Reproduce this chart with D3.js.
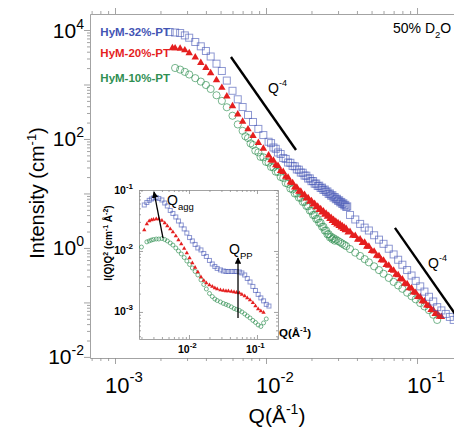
<!DOCTYPE html>
<html>
<head>
<meta charset="utf-8">
<title>SANS intensity</title>
<script src="https://d3js.org/d3.v7.min.js"></script>
<style>
  body { margin: 0; background: #fff; }
  text { font-family: "Liberation Sans", Arial, sans-serif; }
</style>
</head>
<body>
<script>
// ---- main plot data: Q (1/A) and intensity (1/cm) ----
var qBlue = [0.0023,0.0025,0.0027,0.0029,0.0031,0.0034,0.0037,0.004,0.0043,0.0047,0.0051,0.0055,0.006,0.0065,0.007,0.0076,0.0082,0.0089,0.0096,0.0104,0.0112,0.012,0.013,0.014,0.015,0.016,0.017,0.018,0.019,0.02,0.021,0.022,0.023,0.024,0.025,0.026,0.027,0.028,0.029,0.030,0.031,0.032,0.033,0.034,0.036,0.039,0.042,0.045,0.048,0.052,0.056,0.060,0.065,0.070,0.075,0.080,0.086,0.092,0.098,0.105,0.112,0.120,0.128,0.136,0.145,0.155,0.165,0.175];
var iBlue = [9190,8995,8810,7960,7220,6025,5020,4120,3265,2410,1770,1180,766,535,386,276,205,153,118,88.9,69.8,56.5,44.8,37.0,32.0,27.6,24.2,21.3,18.8,16.8,15.1,13.7,12.6,11.6,10.7,9.79,9.08,8.41,7.83,7.31,6.84,6.41,6.02,5.65,4.03,3.33,2.76,2.36,2.09,1.71,1.42,1.19,0.967,0.760,0.607,0.492,0.393,0.312,0.249,0.197,0.158,0.127,0.104,0.0820,0.0713,0.0615,0.0542,0.0477];
// second, denser detector setting (overlap band)
var qBlue2 = [0.0108,0.0116,0.0125,0.0135,0.0145,0.0155,0.0165,0.0175,0.0185,0.0195,0.0205,0.0215,0.0225,0.0235,0.0245,0.0255,0.0265,0.0275,0.0285,0.0295,0.0305,0.0315,0.0325,0.0335,0.0345];
var iBlue2 = [84,66,53,43,36.5,31.5,27.3,24.0,21.2,18.9,16.9,15.2,13.9,12.8,11.8,10.9,10.0,9.3,8.6,8.0,7.5,7.0,6.6,6.2,5.8];

var qRed = [0.0024,0.0025,0.0027,0.0029,0.0031,0.0034,0.0037,0.004,0.0043,0.0047,0.0051,0.0055,0.006,0.0065,0.007,0.0076,0.0082,0.0089,0.0096,0.0104,0.0112,0.012,0.013,0.014,0.015,0.016,0.017,0.018,0.019,0.02,0.021,0.022,0.023,0.024,0.025,0.026,0.027,0.028,0.029,0.030,0.031,0.032,0.033,0.034,0.036,0.039,0.042,0.045,0.048,0.052,0.056,0.060,0.065,0.070,0.075,0.080,0.086,0.092,0.098,0.105,0.112,0.120,0.128,0.136,0.145];
var iRed = [4677,4636,4560,4256,3767,3141,2500,2018,1626,1205,873,605,403,284,208,151,114,84.8,66.7,50.2,40.0,32.2,25.0,19.5,15.6,12.9,10.8,9.46,8.27,7.28,6.47,5.75,5.19,4.69,4.28,3.90,3.57,3.29,3.05,2.85,2.68,2.52,2.38,2.24,1.97,1.67,1.44,1.25,1.06,0.863,0.710,0.590,0.473,0.385,0.318,0.265,0.218,0.181,0.151,0.125,0.105,0.0863,0.0722,0.0626,0.0542];
var qRed2 = [0.0108,0.0116,0.0125,0.0135,0.0145,0.0155,0.0165,0.0175,0.0185,0.0195,0.0205,0.0215,0.0225,0.0235,0.0245,0.0255,0.0265,0.0275,0.0285,0.0295,0.0305,0.0315,0.0325,0.0335,0.035,0.0375,0.0405,0.0435,0.0465,0.050,0.054,0.058,0.0625,0.0675,0.0725,0.0775,0.083,0.089,0.095,0.1015,0.1085,0.116,0.124,0.132,0.1405];
var iRed2 = [41,33,26,20.3,16,13,10.8,9.2,8.1,7.1,6.3,5.6,5.0,4.5,4.1,3.75,3.42,3.15,2.9,2.7,2.55,2.4,2.25,2.12,1.93,1.68,1.43,1.24,1.06,0.88,0.72,0.60,0.49,0.395,0.325,0.27,0.222,0.184,0.153,0.127,0.106,0.088,0.073,0.062,0.055];

var qGreen = [0.0025,0.0027,0.0029,0.0031,0.0034,0.0037,0.004,0.0043,0.0047,0.0051,0.0055,0.006,0.0065,0.007,0.0076,0.0082,0.0089,0.0096,0.0104,0.0112,0.012,0.013,0.014,0.015,0.016,0.017,0.018,0.019,0.02,0.021,0.022,0.023,0.024,0.025,0.026,0.027,0.028,0.029,0.030,0.031,0.032,0.033,0.034,0.036,0.039,0.042,0.045,0.048,0.052,0.056,0.060,0.065,0.070,0.075,0.080,0.086,0.092,0.098,0.105,0.112,0.120,0.128,0.136];
var iGreen = [2009,1876,1703,1525,1306,1130,979,827,634,500,382,267,185,141,104,77.6,56.8,46.1,36.9,30.1,24.8,19.2,15.0,11.9,9.96,8.30,7.01,5.80,4.79,4.01,3.40,2.90,2.45,2.09,1.79,1.61,1.51,1.43,1.34,1.27,1.20,1.14,1.08,0.955,0.820,0.713,0.623,0.544,0.460,0.392,0.336,0.282,0.238,0.205,0.178,0.151,0.130,0.114,0.0975,0.0845,0.0722,0.0595,0.0477];
var qGreen2 = [0.0073,0.0079,0.0085,0.0092,0.01,0.0108,0.0116,0.0125,0.0135,0.0145,0.0155,0.0165,0.0175,0.0185,0.0195,0.0205,0.0215,0.0225,0.0235,0.0245,0.0255,0.0265,0.0275,0.0285];
var iGreen2 = [112,83,61,47,38,30.7,25.1,20.1,15.6,12.3,10.0,8.4,7.0,5.9,4.85,4.03,3.4,2.9,2.45,2.08,1.78,1.56,1.45,1.36];

// ---- inset data: I(Q)Q^2 ----
var qInBlue = [0.0022,0.0024,0.0026,0.0028,0.003,0.0033,0.0036,0.004,0.0044,0.0048,0.0053,0.0058,0.0064,0.007,0.0077,0.0085,0.0093,0.0102,0.0112,0.0123,0.0135,0.015,0.0165,0.018,0.02,0.022,0.024,0.026,0.029,0.032,0.035,0.038,0.042,0.046,0.05,0.055,0.06,0.066,0.072,0.079,0.087,0.095,0.104,0.114,0.125,0.137,0.15];
var vInBlue = [0.0568,0.0624,0.0676,0.0712,0.0739,0.0753,0.0726,0.0686,0.0612,0.0547,0.0462,0.0412,0.0361,0.0310,0.0267,0.0230,0.0197,0.0166,0.0146,0.0128,0.0112,0.0104,0.00910,0.00813,0.00699,0.00612,0.00557,0.00517,0.00489,0.00470,0.00461,0.00461,0.00461,0.00461,0.00461,0.00453,0.00436,0.00404,0.00354,0.00310,0.00262,0.00225,0.00194,0.00170,0.00152,0.00133,0.00125];

var qInRed = [0.0022,0.0024,0.0026,0.0028,0.003,0.0033,0.0036,0.004,0.0044,0.0048,0.0053,0.0058,0.0064,0.007,0.0077,0.0085,0.0093,0.0102,0.0112,0.0123,0.0135,0.015,0.0165,0.018,0.02,0.022,0.024,0.026,0.029,0.032,0.035,0.038,0.042,0.046,0.05,0.055,0.06,0.066,0.072,0.079,0.087,0.095,0.104,0.114,0.125];
var vInRed = [0.0221,0.0277,0.0310,0.0322,0.0328,0.0335,0.0335,0.0316,0.0288,0.0257,0.0230,0.0205,0.0176,0.0151,0.0130,0.0110,0.00927,0.00767,0.00635,0.00537,0.00453,0.00375,0.00328,0.00299,0.00277,0.00262,0.00247,0.00238,0.00230,0.00225,0.00221,0.00221,0.00217,0.00213,0.00209,0.00205,0.00194,0.00183,0.00170,0.00157,0.00141,0.00125,0.00112,0.00104,0.000982];

var qInGreen = [0.002,0.0024,0.0026,0.0028,0.003,0.0033,0.0036,0.004,0.0044,0.0048,0.0053,0.0058,0.0064,0.007,0.0077,0.0085,0.0093,0.0102,0.0112,0.0123,0.0135,0.015,0.0165,0.018,0.02,0.022,0.024,0.026,0.029,0.032,0.035,0.038,0.042,0.046,0.05,0.055,0.06,0.066,0.072,0.079,0.087,0.095,0.104,0.114,0.125,0.137];
var vInGreen = [0.0116,0.0141,0.0146,0.0151,0.0154,0.0157,0.0157,0.0160,0.0154,0.0146,0.0135,0.0125,0.0112,0.0100,0.00893,0.00782,0.00685,0.00601,0.00526,0.00461,0.00404,0.00335,0.00282,0.00238,0.00201,0.00179,0.00163,0.00154,0.00146,0.00138,0.00133,0.00128,0.00121,0.00114,0.00110,0.00106,0.00100,0.000927,0.000860,0.000797,0.000726,0.000673,0.000612,0.000578,0.000661,0.000768];

var seriesNames = ["HyM-32%-PT", "HyM-20%-PT", "HyM-10%-PT"];

var blue = "#4354b4", red = "#e51f1f", green = "#2f8f52", axisGrey = "#8c8c8c";

var svg = d3.select("body").append("svg")
    .attr("width", 454)
    .attr("height", 427);

// ---- scales ----
var main = {left: 90, top: 14, right: 458, bottom: 358};
var x = d3.scaleLog().domain([6.83e-4, 0.1868]).range([main.left, main.right]);
var y = d3.scaleLog().domain([0.00955, 19670]).range([main.bottom, main.top]);

var ins = {left: 139, top: 190, right: 278, bottom: 339};
var xi = d3.scaleLog().domain([0.00184, 0.2038]).range([ins.left, ins.right]);
var yi = d3.scaleLog().domain([0.000360, 0.1]).range([ins.bottom, ins.top]);

function isDecade(v) { return Math.abs(Math.log10(v) - Math.round(Math.log10(v))) < 1e-6; }

// draws one log axis: decade ticks long, the rest short
function logAxis(parent, axisFn, scale, tf, bigLen, smallLen) {
  var all = scale.ticks();
  var g = parent.append("g").attr("transform", tf);
  g.call(axisFn(scale).tickValues(all.filter(isDecade)).tickSizeInner(bigLen).tickSizeOuter(0).tickFormat(""));
  var g2 = parent.append("g").attr("transform", tf);
  g2.call(axisFn(scale).tickValues(all.filter(function(v){ return !isDecade(v); })).tickSizeInner(smallLen).tickSizeOuter(0).tickFormat(""));
  g2.select(".domain").remove();
  parent.selectAll(".domain, .tick line").attr("stroke", axisGrey).attr("stroke-width", 0.8);
}

// text like 10^n
function powLabel(sel, exp, size, supSize, raise, weight) {
  sel.attr("font-weight", weight || "normal");
  sel.append("tspan").attr("font-size", size).text("10");
  sel.append("tspan").attr("font-size", supSize).attr("dy", -raise).text(exp);
}

// ---- main axes ----
var axes = svg.append("g");
logAxis(axes, d3.axisBottom, x, "translate(0," + main.bottom + ")", 6, 3);
logAxis(axes, d3.axisTop, x, "translate(0," + main.top + ")", 6, 3);
logAxis(axes, d3.axisLeft, y, "translate(" + main.left + ",0)", 6, 3);

[0.001, 0.01, 0.1].forEach(function(v) {
  var t = svg.append("text").attr("x", x(v) - 10).attr("y", 393);
  powLabel(t, String(Math.round(Math.log10(v))), 22, 15, 11);
});
[0.01, 1, 100, 10000].forEach(function(v) {
  var t = svg.append("text").attr("x", 84).attr("y", y(v) + 7.5).attr("text-anchor", "end");
  powLabel(t, String(Math.round(Math.log10(v))), 21, 14, 9);
});

var yt = svg.append("text").attr("transform", "translate(44,193) rotate(-90)")
    .attr("text-anchor", "middle").attr("font-size", 20);
yt.append("tspan").text("Intensity (cm");
yt.append("tspan").attr("font-size", 13).attr("dy", -8).text("-1");
yt.append("tspan").attr("dy", 8).text(")");

var xt = svg.append("text").attr("x", 277).attr("y", 423)
    .attr("text-anchor", "middle").attr("font-size", 21);
xt.append("tspan").text("Q(\u00C5");
xt.append("tspan").attr("font-size", 14).attr("dy", -9).text("-1");
xt.append("tspan").attr("dy", 9).text(")");

// ---- main markers ----
svg.append("clipPath").attr("id", "mainClip").append("rect")
    .attr("x", main.left).attr("y", main.top)
    .attr("width", main.right - main.left).attr("height", main.bottom - main.top);
var marks = svg.append("g").attr("clip-path", "url(#mainClip)");

var triMain = d3.symbol().type(d3.symbolTriangle).size(24);
var triInset = d3.symbol().type(d3.symbolTriangle).size(8);

function drawSeries(g, qs, vs, xs, ys, kind, s) {
  var data = qs.map(function(q, k) { return [q, vs[k]]; });
  var sel = g.append("g").selectAll("path").data(data).enter();
  if (kind === "square") {
    sel.append("rect")
      .attr("x", function(d){ return xs(d[0]) - s / 2; })
      .attr("y", function(d){ return ys(d[1]) - s / 2; })
      .attr("width", s).attr("height", s)
      .attr("fill", "none").attr("stroke", blue).attr("stroke-opacity", 0.6).attr("stroke-width", 1);
  } else if (kind === "circle") {
    sel.append("circle")
      .attr("cx", function(d){ return xs(d[0]); })
      .attr("cy", function(d){ return ys(d[1]); })
      .attr("r", s)
      .attr("fill", "none").attr("stroke", green).attr("stroke-opacity", 0.65).attr("stroke-width", 1);
  } else {
    sel.append("path")
      .attr("d", s)
      .attr("transform", function(d){ return "translate(" + xs(d[0]) + "," + ys(d[1]) + ")"; })
      .attr("fill", red);
  }
}

drawSeries(marks, qGreen, iGreen, x, y, "circle", 3.6);
drawSeries(marks, qGreen2, iGreen2, x, y, "circle", 3.6);
drawSeries(marks, qRed, iRed, x, y, "tri", triMain());
drawSeries(marks, qRed2, iRed2, x, y, "tri", triMain());
drawSeries(marks, qBlue, iBlue, x, y, "square", 7);
drawSeries(marks, qBlue2, iBlue2, x, y, "square", 7);

// legend labels
var legendColors = [blue, red, green];
var legendY = [36, 57, 82];
seriesNames.forEach(function(n, k) {
  svg.append("text").attr("x", 170).attr("y", legendY[k]).attr("text-anchor", "end")
    .attr("font-size", 11.5).attr("font-weight", "bold").attr("fill", legendColors[k]).text(n);
});

// Q^-4 guide lines
var slopes = [
  {q0: 0.00586, i0: 3200, q1: 0.0158, i1: 62.8, lx: 268, ly: 93},
  {q0: 0.0714, i0: 2.33, q1: 0.1787, i1: 0.0615, lx: 428, ly: 268}
];
slopes.forEach(function(s) {
  svg.append("line")
    .attr("x1", x(s.q0)).attr("y1", y(s.i0)).attr("x2", x(s.q1)).attr("y2", y(s.i1))
    .attr("stroke", "#000").attr("stroke-width", 2.4);
  var t = svg.append("text").attr("x", s.lx).attr("y", s.ly).attr("font-size", 14);
  t.append("tspan").text("Q");
  t.append("tspan").attr("font-size", 9).attr("dy", -7).text("-4");
});

var dt = svg.append("text").attr("x", 393).attr("y", 33).attr("font-size", 14);
dt.append("tspan").text("50% D");
dt.append("tspan").attr("font-size", 9.5).attr("dy", 5).text("2");
dt.append("tspan").attr("dy", -5).text("O");

// ---- inset ----
svg.append("rect").attr("x", ins.left).attr("y", ins.top)
    .attr("width", ins.right - ins.left).attr("height", ins.bottom - ins.top)
    .attr("fill", "#fff");
var inAxes = svg.append("g");
logAxis(inAxes, d3.axisBottom, xi, "translate(0," + ins.bottom + ")", -4, -2);
logAxis(inAxes, d3.axisTop, xi, "translate(0," + ins.top + ")", -4, -2);
logAxis(inAxes, d3.axisLeft, yi, "translate(" + ins.left + ",0)", -4, -2);
logAxis(inAxes, d3.axisRight, yi, "translate(" + ins.right + ",0)", -4, -2);

[0.01, 0.1].forEach(function(v) {
  var t = svg.append("text").attr("x", xi(v) - 11).attr("y", 353);
  powLabel(t, String(Math.round(Math.log10(v))), 10.5, 8, 5, "bold");
});
[0.001, 0.01, 0.1].forEach(function(v) {
  var t = svg.append("text").attr("x", 133).attr("y", yi(v) + 3.5).attr("text-anchor", "end");
  powLabel(t, String(Math.round(Math.log10(v))), 10.5, 8, 5, "bold");
});

var iyt = svg.append("text").attr("transform", "translate(112,243) rotate(-90)")
    .attr("text-anchor", "middle").attr("font-size", 10).attr("font-weight", "bold");
iyt.append("tspan").text("I(Q)Q");
iyt.append("tspan").attr("font-size", 7).attr("dy", -4).text("2");
iyt.append("tspan").attr("dy", 4).text(" (cm");
iyt.append("tspan").attr("font-size", 7).attr("dy", -4).text("-1");
iyt.append("tspan").attr("dy", 4).text(" \u00C5");
iyt.append("tspan").attr("font-size", 7).attr("dy", -4).text("-2");
iyt.append("tspan").attr("dy", 4).text(")");

var ixt = svg.append("text").attr("x", 279).attr("y", 337)
    .attr("font-size", 11.5).attr("font-weight", "bold");
ixt.append("tspan").text("Q(\u00C5");
ixt.append("tspan").attr("font-size", 8).attr("dy", -5).text("-1");
ixt.append("tspan").attr("dy", 5).text(")");

var inMarks = svg.append("g");
drawSeries(inMarks, qInGreen, vInGreen, xi, yi, "circle", 2);
drawSeries(inMarks, qInRed, vInRed, xi, yi, "tri", triInset());
drawSeries(inMarks, qInBlue, vInBlue, xi, yi, "square", 4);

// arrows for Q_agg and Q_pp
svg.append("defs").append("marker").attr("id", "head")
    .attr("viewBox", "0 0 10 10").attr("refX", 9).attr("refY", 5)
    .attr("markerWidth", 5).attr("markerHeight", 5).attr("orient", "auto")
  .append("path").attr("d", "M0,0L10,5L0,10z").attr("fill", "#000");

var arrows = [
  {q0: 0.00415, v0: 0.0163, q1: 0.00306, v1: 0.0927, main: "Q", sub: "agg", lx: 167, ly: 205},
  {q0: 0.0526, v0: 0.000798, q1: 0.0526, v1: 0.00767, main: "Q", sub: "PP", lx: 229, ly: 254}
];
arrows.forEach(function(a) {
  svg.append("line")
    .attr("x1", xi(a.q0)).attr("y1", yi(a.v0)).attr("x2", xi(a.q1)).attr("y2", yi(a.v1))
    .attr("stroke", "#000").attr("stroke-width", 1.3).attr("marker-end", "url(#head)");
  var t = svg.append("text").attr("x", a.lx).attr("y", a.ly).attr("font-size", 14);
  t.append("tspan").text(a.main);
  t.append("tspan").attr("font-size", 9.5).attr("dy", 5).text(a.sub);
});
</script>
</body>
</html>
